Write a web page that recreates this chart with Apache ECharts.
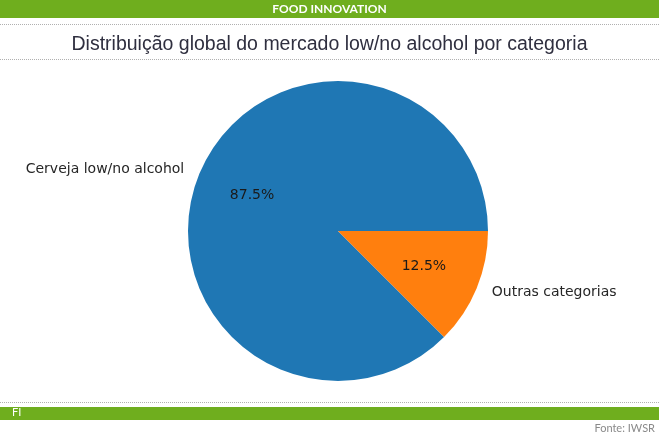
<!DOCTYPE html>
<html>
<head>
<meta charset="utf-8">
<script src="https://cdn.jsdelivr.net/npm/echarts@6/dist/echarts.min.js"></script>
<style>
  html, body { margin: 0; padding: 0; background: #fff; }
  #chart { width: 659px; height: 436px; }
</style>
</head>
<body>
<div id="chart"></div>
<script>
// categorias e valores (%)
var categorias = ['Cerveja low/no alcohol', 'Outras categorias'];
var valores = [87.5, 12.5];
var cores = ['#1f77b4', '#ff7f0e'];

var verde = '#6fae1e';
var pontilhado = { stroke: '#b0b0b0', lineWidth: 1, lineDash: [1, 1] };

var dados = categorias.map(function (nome, i) {
  return { name: nome, value: valores[i], itemStyle: { color: cores[i] } };
});

var myChart = echarts.init(document.getElementById('chart'), null, { renderer: 'canvas' });

var option = {
  backgroundColor: '#fff',
  animation: false,
  title: {
    text: 'Distribuição global do mercado low/no alcohol por categoria',
    left: 'center',
    top: 30,
    textStyle: {
      fontFamily: 'Liberation Sans, Arial, sans-serif',
      fontWeight: 'normal',
      fontSize: 19.5,
      color: '#2f2f3f'
    }
  },
  graphic: [
    // faixa do topo
    { type: 'rect', left: 0, top: 0, shape: { width: 659, height: 18 }, style: { fill: verde }, silent: true },
    { type: 'text', left: 'center', top: 3, style: { text: 'FOOD INNOVATION', fill: '#fff', font: 'bold 12px Lato, sans-serif' }, silent: true },
    { type: 'line', shape: { x1: 0, y1: 24.5, x2: 659, y2: 24.5 }, style: pontilhado, silent: true },
    { type: 'line', shape: { x1: 0, y1: 59.5, x2: 659, y2: 59.5 }, style: pontilhado, silent: true },
    // rodape
    { type: 'line', shape: { x1: 0, y1: 402.5, x2: 659, y2: 402.5 }, style: pontilhado, silent: true },
    { type: 'rect', left: 0, top: 407, shape: { width: 659, height: 13 }, style: { fill: verde }, silent: true },
    { type: 'text', left: 12, top: 407, style: { text: 'FI', fill: '#fff', font: '11px Lato, sans-serif' }, silent: true },
    { type: 'text', right: 4, top: 423, style: { text: 'Fonte: IWSR', fill: '#8a8a8a', font: '11px Lato, sans-serif' }, silent: true }
  ],
  series: [{
    name: 'categorias',
    type: 'pie',
    center: [338, 231],
    radius: 150,
    startAngle: 0,
    clockwise: false,
    silent: true,
    data: dados,
    label: {
      show: true,
      position: 'outside',
      formatter: '{b}',
      fontFamily: 'DejaVu Sans',
      fontSize: 14,
      color: '#262626'
    },
    labelLine: { show: false, length: 11, length2: 0 },
    emphasis: { disabled: true }
  }, {
    name: 'percentuais',
    type: 'pie',
    center: [338, 231],
    radius: 180,
    startAngle: 0,
    clockwise: false,
    silent: true,
    z: 3,
    data: dados.map(function (d) { return { name: d.name, value: d.value }; }),
    itemStyle: { color: 'rgba(0,0,0,0)' },
    label: {
      show: true,
      position: 'inside',
      formatter: function (p) { return p.percent.toFixed(1) + '%'; },
      fontFamily: 'DejaVu Sans',
      fontSize: 14,
      color: '#1a1a1a'
    },
    labelLine: { show: false },
    emphasis: { disabled: true }
  }]
};

myChart.setOption(option);
</script>
</body>
</html>
